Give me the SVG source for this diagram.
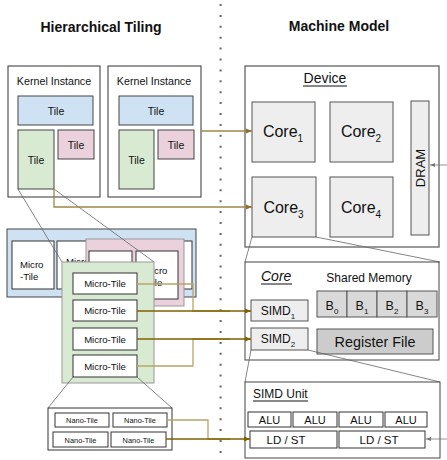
<svg xmlns="http://www.w3.org/2000/svg" width="447" height="460" viewBox="0 0 447 460">
<defs>
<style>
text{font-family:"Liberation Sans",Arial,sans-serif;fill:#111;}
.title{font-size:14px;font-weight:bold;text-anchor:middle;}
.box{fill:#fff;stroke:#333;stroke-width:1;}
.blue{fill:#cfe2f3;stroke:#444;stroke-width:1;}
.green{fill:#d9ead3;stroke:#444;stroke-width:1;}
.pink{fill:#ead1dc;stroke:#444;stroke-width:1;}
.core{fill:#eeeeee;stroke:#555;stroke-width:1;}
.bank{fill:#d9d9d9;stroke:#555;stroke-width:1;}
.reg{fill:#cccccc;stroke:#555;stroke-width:1;}
.zoomline{stroke:#666;stroke-width:0.8;fill:none;}
.dark{stroke:#7f6000;stroke-width:1.3;fill:none;}
.light{stroke:#b9a466;stroke-width:1.3;fill:none;}
.mid{stroke:#a08748;stroke-width:1.3;fill:none;}
.gray{stroke:#777;stroke-width:0.8;fill:none;}
.mid-t{text-anchor:middle;}
</style>
<marker id="ad" viewBox="0 0 10 10" refX="10" refY="5" markerWidth="6" markerHeight="6" orient="auto" markerUnits="userSpaceOnUse"><path d="M0,1 L10,5 L0,9 z" fill="#7f6000"/></marker>
<marker id="am" viewBox="0 0 10 10" refX="10" refY="5" markerWidth="6" markerHeight="6" orient="auto" markerUnits="userSpaceOnUse"><path d="M0,1 L10,5 L0,9 z" fill="#8c7330"/></marker>
<marker id="ag" viewBox="0 0 10 10" refX="10" refY="5" markerWidth="5" markerHeight="5" orient="auto" markerUnits="userSpaceOnUse"><path d="M0,1 L10,5 L0,9 z" fill="#777"/></marker>
</defs>
<rect width="447" height="460" fill="#fff"/>

<!-- titles & divider -->
<text class="title" x="101" y="32">Hierarchical Tiling</text>
<text class="title" x="339" y="31">Machine Model</text>
<line x1="220.6" y1="4" x2="220.6" y2="460" stroke="#666" stroke-width="2" stroke-dasharray="2 8.9"/>

<!-- Kernel instances -->
<g id="kernel1">
<rect class="box" x="8" y="66" width="92" height="131"/>
<text x="54" y="85" font-size="10.7" class="mid-t">Kernel Instance</text>
<rect class="blue" x="18" y="96" width="75" height="29"/>
<text x="56" y="115" font-size="10.5" class="mid-t">Tile</text>
<rect class="green" x="18" y="130" width="36" height="59"/>
<text x="36" y="164" font-size="10.5" class="mid-t">Tile</text>
<rect class="pink" x="58" y="130" width="36" height="29"/>
<text x="76" y="149" font-size="10.5" class="mid-t">Tile</text>
</g>
<g id="kernel2">
<rect class="box" x="108" y="66" width="93" height="131"/>
<text x="154" y="85" font-size="10.7" class="mid-t">Kernel Instance</text>
<rect class="blue" x="119" y="96" width="74" height="29"/>
<text x="156" y="115" font-size="10.5" class="mid-t">Tile</text>
<rect class="green" x="119" y="130" width="35" height="59"/>
<text x="136.5" y="164" font-size="10.5" class="mid-t">Tile</text>
<rect class="pink" x="158" y="130" width="36" height="29"/>
<text x="176" y="149" font-size="10.5" class="mid-t">Tile</text>
</g>

<!-- micro-tile layers -->
<g id="blue-row">
<rect class="blue" x="7" y="229" width="189" height="68"/>
<rect class="box" x="12" y="241" width="42" height="48"/>
<text x="20" y="268" font-size="9.6">Micro</text>
<text x="20" y="280" font-size="9.6">-Tile</text>
<rect class="box" x="57" y="241" width="135" height="48"/>
<text x="66" y="265" font-size="9.6">Micro</text>
</g>
<g id="pink-row">
<rect x="86" y="239" width="98" height="67" fill="#ead1dc" stroke="#999" stroke-width="1"/>
<rect class="box" x="89" y="251" width="43" height="48"/>
<rect class="box" x="136" y="251" width="42" height="48"/>
<text x="144" y="274" font-size="9.6">Micro</text>
<text x="144" y="286" font-size="9.6">-Tile</text>
</g>
<g id="tile-zoom-lines">
<line class="zoomline" x1="18" y1="189" x2="62" y2="262"/>
<line class="zoomline" x1="54" y1="189" x2="154" y2="262"/>
</g>
<g id="green-tile">
<rect x="62" y="262" width="92" height="121" fill="#d9ead3" stroke="#999" stroke-width="1"/>
<rect class="box" x="73" y="273" width="64" height="21"/>
<text x="105" y="287" font-size="9.6" class="mid-t">Micro-Tile</text>
<rect class="box" x="73" y="300" width="64" height="21"/>
<text x="105" y="314" font-size="9.6" class="mid-t">Micro-Tile</text>
<rect class="box" x="73" y="328" width="64" height="22"/>
<text x="105" y="342.5" font-size="9.6" class="mid-t">Micro-Tile</text>
<rect class="box" x="73" y="355" width="64" height="22"/>
<text x="105" y="369.5" font-size="9.6" class="mid-t">Micro-Tile</text>
</g>
<g id="nano">
<line class="zoomline" x1="73" y1="377" x2="48" y2="408"/>
<line class="zoomline" x1="137" y1="377" x2="172" y2="408"/>
<rect class="box" x="48" y="408" width="124" height="42"/>
<rect class="box" x="55" y="413" width="54" height="14"/>
<text x="82" y="423" font-size="7.4" class="mid-t">Nano-Tile</text>
<rect class="box" x="113" y="413" width="54" height="14"/>
<text x="140" y="423" font-size="7.4" class="mid-t">Nano-Tile</text>
<rect class="box" x="53" y="432" width="55" height="15"/>
<text x="80.5" y="442.5" font-size="7.4" class="mid-t">Nano-Tile</text>
<rect class="box" x="111" y="432" width="55" height="15"/>
<text x="138.5" y="442.5" font-size="7.4" class="mid-t">Nano-Tile</text>
</g>

<!-- Device -->
<g id="device">
<rect x="245" y="66" width="194" height="181" fill="#fff" stroke="#555" stroke-width="1.2"/>
<text x="325" y="83" font-size="14" class="mid-t">Device</text>
<line x1="303" y1="86" x2="347" y2="86" stroke="#111" stroke-width="1"/>
</g>
<g id="core1"><rect class="core" x="252" y="102" width="63" height="60"/>
<text x="283" y="137" font-size="16" class="mid-t">Core<tspan font-size="10" dy="5">1</tspan></text></g>
<g id="core2"><rect class="core" x="330" y="102" width="63" height="60"/>
<text x="361" y="137" font-size="16" class="mid-t">Core<tspan font-size="10" dy="5">2</tspan></text></g>
<g id="core3"><rect class="core" x="252" y="177" width="64" height="60"/>
<text x="283.5" y="213" font-size="16" class="mid-t">Core<tspan font-size="10" dy="5">3</tspan></text></g>
<g id="core4"><rect class="core" x="330" y="177" width="63" height="60"/>
<text x="361" y="213" font-size="16" class="mid-t">Core<tspan font-size="10" dy="5">4</tspan></text></g>
<g id="dram"><rect class="core" x="411" y="101" width="18" height="134"/>
<text x="0" y="0" font-size="13" class="mid-t" transform="translate(424.5,168) rotate(-90)">DRAM</text></g>

<!-- Core detail -->
<g id="core-detail">
<line class="zoomline" x1="252" y1="237" x2="245" y2="262"/>
<line class="zoomline" x1="316" y1="237" x2="440" y2="262"/>
<rect x="245" y="262" width="194" height="98" fill="#fff" stroke="#444" stroke-width="1"/>
<text x="261" y="281" font-size="14" font-style="italic">Core</text>
<line x1="261" y1="284" x2="292" y2="284" stroke="#111" stroke-width="1"/>
<text x="369" y="282" font-size="12" class="mid-t">Shared Memory</text>
</g>
<g id="banks">
<rect class="bank" x="317" y="291" width="30" height="26"/>
<text x="332" y="310" font-size="12.5" class="mid-t">B<tspan font-size="8" dy="4">0</tspan></text>
<rect class="bank" x="347" y="291" width="30" height="26"/>
<text x="362" y="310" font-size="12.5" class="mid-t">B<tspan font-size="8" dy="4">1</tspan></text>
<rect class="bank" x="377" y="291" width="30" height="26"/>
<text x="392" y="310" font-size="12.5" class="mid-t">B<tspan font-size="8" dy="4">2</tspan></text>
<rect class="bank" x="407" y="291" width="30" height="26"/>
<text x="422" y="310" font-size="12.5" class="mid-t">B<tspan font-size="8" dy="4">3</tspan></text>
</g>
<g id="regfile"><rect class="reg" x="317" y="329" width="116" height="25"/>
<text x="375" y="347" font-size="14.4" class="mid-t">Register File</text></g>
<g id="simd1"><rect class="core" x="251" y="300" width="57" height="21"/>
<text x="278" y="315" font-size="12" class="mid-t">SIMD<tspan font-size="8" dy="4">1</tspan></text></g>
<g id="simd2"><rect class="core" x="251" y="328" width="57" height="22"/>
<text x="278" y="343" font-size="12" class="mid-t">SIMD<tspan font-size="8" dy="4">2</tspan></text></g>

<!-- SIMD unit -->
<g id="simd-unit">
<line class="zoomline" x1="251" y1="350" x2="245" y2="382"/>
<line class="zoomline" x1="308" y1="350" x2="440" y2="382"/>
<rect x="245" y="382" width="195" height="76" fill="#fff" stroke="#444" stroke-width="1"/>
<text x="253" y="398" font-size="12">SIMD Unit</text>
<line x1="253" y1="401" x2="308" y2="401" stroke="#111" stroke-width="1"/>
<rect class="box" x="248" y="412" width="43" height="15"/>
<text x="269.5" y="424" font-size="11" class="mid-t">ALU</text>
<rect class="box" x="293" y="412" width="44" height="15"/>
<text x="315" y="424" font-size="11" class="mid-t">ALU</text>
<rect class="box" x="339" y="412" width="44" height="15"/>
<text x="361" y="424" font-size="11" class="mid-t">ALU</text>
<rect class="box" x="385" y="412" width="42" height="15"/>
<text x="406" y="424" font-size="11" class="mid-t">ALU</text>
<rect class="box" x="250" y="431" width="87" height="17"/>
<text x="286" y="443.5" font-size="11.5" class="mid-t">LD / ST</text>
<rect class="box" x="339" y="431" width="86" height="17"/>
<text x="379" y="443.5" font-size="11.5" class="mid-t">LD / ST</text>
</g>

<!-- connectors -->
<g id="connectors">
<path class="mid" d="M201,131 H252" marker-end="url(#am)"/>
<path class="mid" d="M54,189 V207 H252" marker-end="url(#am)"/>
<path class="light" d="M137,284 H193 V311 H230"/>
<path class="dark" d="M137,311 H251" marker-end="url(#ad)"/>
<path class="light" d="M137,366 H193 V339 H230"/>
<path class="dark" d="M137,339 H251" marker-end="url(#ad)"/>
<path class="light" d="M167,420 H208 V439 H230"/>
<path class="dark" d="M166,439 H250" marker-end="url(#ad)"/>
<path class="gray" d="M447,165 H430" marker-end="url(#ag)"/>
<path class="gray" d="M447,439 H426" marker-end="url(#ag)"/>
</g>
</svg>
